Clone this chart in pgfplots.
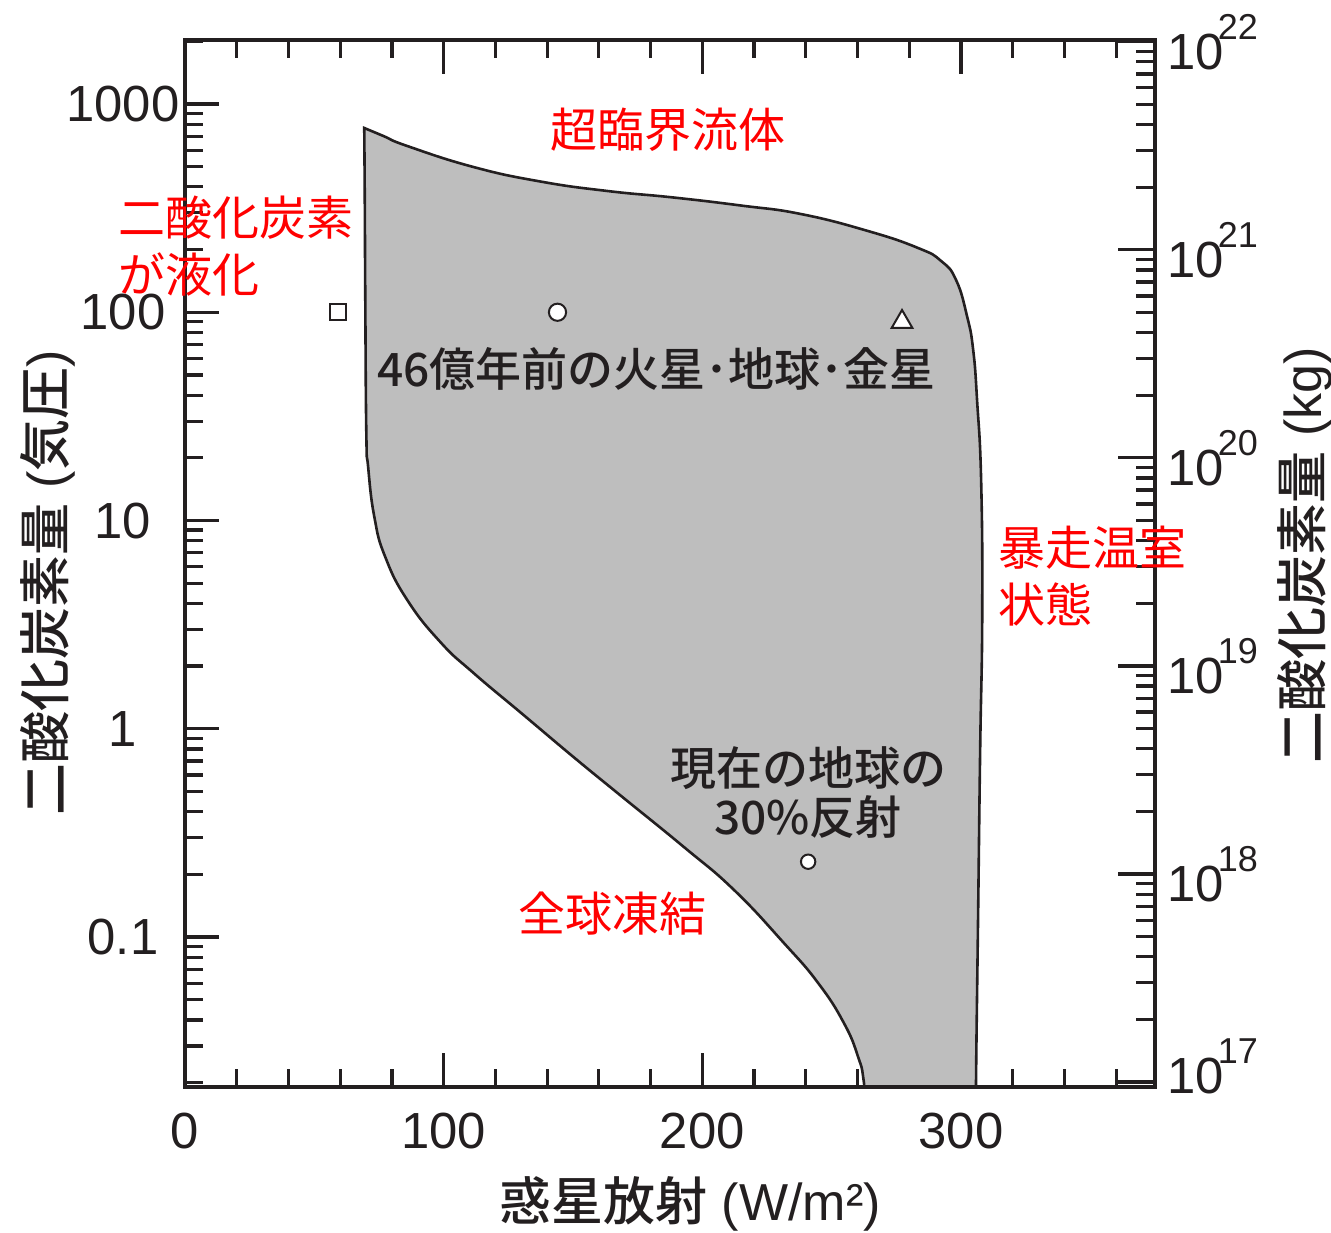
\documentclass[border=0pt]{standalone}
\usepackage{fontspec}
\setmainfont{Liberation Sans}
\newfontfamily\jp{Noto Sans CJK JP}
\newfontfamily\jpm{Noto Sans CJK JP Medium}
\usepackage{pgfplots}
\pgfplotsset{compat=1.18}
\definecolor{shade}{RGB}{190,190,190}
\definecolor{ink}{RGB}{35,31,32}
\newcommand\sci[1]{10\kern-3pt\raisebox{15pt}{\fontsize{18}{18}\selectfont #1}}
\begin{document}
\begin{tikzpicture}
\begin{axis}[
  at={(0,0)}, anchor=south west,
  scale only axis, width=485pt, height=523.5pt,
  xmin=0, xmax=375,
  ymode=log, ymin=0.01905, ymax=2029,
  axis line style={line width=1.8pt, ink},
  xtick={0,100,200,300}, xticklabels={0,100,200,300},
  minor xtick={20,40,60,80,120,140,160,180,220,240,260,280,320,340,360},
  xtick pos=both,
  ytick={0.1,1,10,100,1000}, yticklabels={0.1,1,10,100,1000},
  minor ytick={0.02,0.03,0.04,0.05,0.06,0.07,0.08,0.09,0.2,0.3,0.4,0.5,0.6,0.7,0.8,0.9,2,3,4,5,6,7,8,9,20,30,40,50,60,70,80,90,200,300,400,500,600,700,800,900,2000},
  ytick pos=left,
  tick align=inside,
  major tick length=17pt, minor tick length=9pt,
  major tick style={ink, line width=1.6pt},
  minor tick style={ink, line width=1.6pt},
  tick label style={font=\fontsize{25.4}{30}\selectfont, text=ink},
  yticklabel style={anchor=center, inner sep=0pt, xshift=-31pt},
  xticklabel style={anchor=center, inner sep=0pt, yshift=-22pt},
]
\addplot[fill=shade, draw=ink, line width=1.3pt, smooth, tension=0.8] coordinates {
(69.3,767) (76.7,702) (85.9,628.6) (111.5,498.3) (137.4,424.4) (163.4,382.1) (188.9,355.6)
(214.9,325.5) (238.1,296.3) (264.0,245.6) (283.4,203.5) (292.3,176.3) (298.1,142.8) (302.4,95)
(304.7,66) (306.2,38) (307.8,15.2) (308.2,3.44) (307.4,0.79) (306.6,0.125)
(305.8,0.0199) (305.8,0.01) (265,0.01)
(262.5,0.0199) (260.2,0.0266) (254.7,0.0387) (244.7,0.0603) (231.5,0.0937)
(212.2,0.1685) (192.8,0.271) (167.2,0.4915) (150.2,0.7316) (130.9,1.164)
(111.5,1.855) (98.7,2.61) (85.9,4.157) (77.4,6.69) (73.2,10.4) (70.8,18.1)
(70.1,26.3) (69.7,114.6) (69.5,346) (69.3,767)
} -- cycle;
\addplot[only marks, mark=square*, mark size=4pt, mark options={fill=white, draw=ink, line width=1pt}] coordinates {(59,100)};
\addplot[only marks, mark=*, mark size=4.3pt, mark options={fill=white, draw=ink, line width=1pt}] coordinates {(144,100)};
\addplot[only marks, mark=triangle*, mark size=6pt, mark options={fill=white, draw=ink, line width=1pt}] coordinates {(277.2,89.8)};
\addplot[only marks, mark=*, mark size=3.6pt, mark options={fill=white, draw=ink, line width=1pt}] coordinates {(240.9,0.23)};
\end{axis}
\begin{axis}[
  at={(0,0)}, anchor=south west,
  scale only axis, width=485pt, height=523.5pt,
  xmin=0, xmax=1, xtick=\empty,
  ymode=log, ymin=9.47e16, ymax=1.02e22,
  axis line style={line width=1.8pt, ink},
  ytick={1e17,1e18,1e19,1e20,1e21,1e22},
  yticklabels={\raisebox{16pt}{\sci{17}},\sci{18},\sci{19},\sci{20},\sci{21},\sci{22}},
  minor ytick={2e17,3e17,4e17,5e17,6e17,7e17,8e17,9e17,2e18,3e18,4e18,5e18,6e18,7e18,8e18,9e18,2e19,3e19,4e19,5e19,6e19,7e19,8e19,9e19,2e20,3e20,4e20,5e20,6e20,7e20,8e20,9e20,2e21,3e21,4e21,5e21,6e21,7e21,8e21,9e21},
  ytick pos=right, yticklabel pos=right,
  tick align=inside,
  major tick length=18.5pt, minor tick length=9.5pt,
  major tick style={ink, line width=1.6pt},
  minor tick style={ink, line width=1.6pt},
  tick label style={font=\fontsize{25.4}{30}\selectfont, text=ink},
  yticklabel style={anchor=west, inner sep=0pt, xshift=6pt},
]
\addplot[draw=none] coordinates {(0.5,1e18)};
\end{axis}
% annotations
\begin{scope}[every node/.style={inner sep=0pt, font=\jp\fontsize{23.5}{28}\selectfont}]
\node[anchor=base west, text=red] at (182.5pt,469.5pt) {超臨界流体};
\node[anchor=base west, text=red] at (-33.5pt,425.5pt) {二酸化炭素};
\node[anchor=base west, text=red] at (-33.5pt,397pt) {が液化};
\node[anchor=base west, text=red] at (406.5pt,260.5pt) {暴走温室};
\node[anchor=base west, text=red] at (406.5pt,232pt) {状態};
\node[anchor=base west, text=red] at (166.5pt,78pt) {全球凍結};
\node[anchor=base west, text=ink, font=\jpm\fontsize{23}{28}\selectfont] at (96pt,350pt) {46億年前の火星･地球･金星};
\node[anchor=base, text=ink, font=\jpm\fontsize{23}{28}\selectfont] at (311.5pt,151pt) {現在の地球の};
\node[anchor=base, text=ink, font=\jpm\fontsize{23}{28}\selectfont] at (311.5pt,126.5pt) {30\%反射};
\node[anchor=base, text=ink, font=\fontsize{26}{30}\selectfont] at (252.5pt,-66.5pt) {{\jpm 惑星放射} (W/m²)};
\node[anchor=base, rotate=90, text=ink, font=\fontsize{26}{30}\selectfont] at (-60.25pt,252.25pt) {{\jpm 二酸化炭素量} ({\jpm 気圧})};
\node[anchor=base, rotate=90, text=ink, font=\fontsize{26}{30}\selectfont] at (568.25pt,266pt) {{\jpm 二酸化炭素量} (kg)};
\end{scope}
\pgfresetboundingbox
\path[use as bounding box] (-92.5pt,-72.5pt) rectangle (573pt,543.5pt);
\end{tikzpicture}
\end{document}
